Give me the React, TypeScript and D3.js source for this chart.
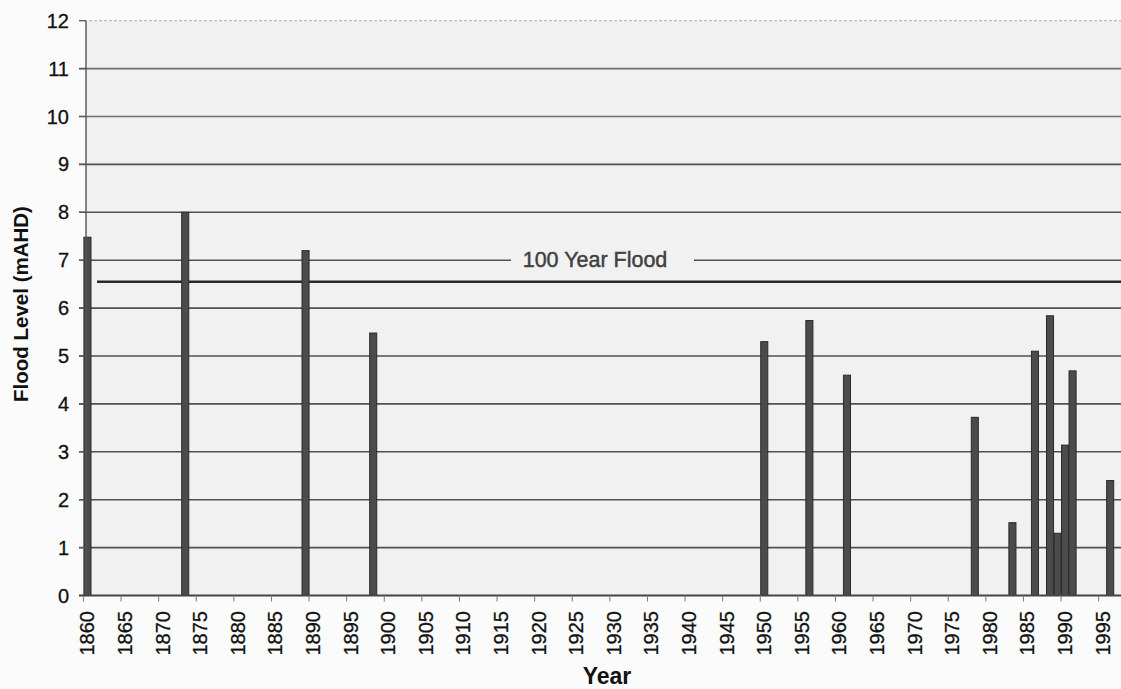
import React from "react";
import * as d3 from "d3";

const floodYears = [1860, 1873, 1889, 1898, 1950, 1956, 1961, 1978, 1983, 1986, 1988, 1989, 1990, 1991, 1996];
const floodLevels = [7.48, 8.0, 7.2, 5.48, 5.3, 5.74, 4.6, 3.72, 1.52, 5.1, 5.84, 1.3, 3.14, 4.69, 2.4];
const yTicks = [0, 1, 2, 3, 4, 5, 6, 7, 8, 9, 10, 11, 12];
const hundredYearFlood = 6.55;
const firstYear = 1860;
const lastYear = 1997;

export default function App() {
  const W = 1121, H = 689;
  const allYears = d3.range(firstYear, lastYear + 1);
  const x = d3.scaleBand<number>().domain(allYears).range([83.7, 83.7 + allYears.length * 7.52]).paddingInner(0.06).paddingOuter(0.03);
  const y = d3.scaleLinear().domain([0, 12]).range([595.5, 20.7]);
  const cx = (yr: number) => (x(yr) as number) + x.bandwidth() / 2;
  const labelYears = allYears.filter((yr) => (yr - firstYear) % 5 === 0 && yr <= 1995);
  const font = "'Liberation Sans', Arial, sans-serif";
  const plotL = 86, plotR = W;

  return (
    <svg width={W} height={H} style={{ position: "absolute", left: 0, top: 0, background: "#fbfbfb" }} fontFamily={font}>
      <rect x={plotL} y={y(12)} width={plotR - plotL} height={y(0) - y(12)} fill="#f1f1f1" />
      {/* gridlines */}
      {yTicks.filter((v) => v > 0).map((v) => (
        <line key={"g" + v} x1={79} x2={plotR} y1={y(v)} y2={y(v)}
          stroke={v === 12 ? "#b0b0b0" : v >= 10 ? "#707070" : "#505050"}
          strokeWidth={v === 12 ? 1 : 1.6}
          strokeDasharray={v === 12 ? "3,2" : undefined} />
      ))}
      {/* label for 100 year flood, breaking the 7 gridline */}
      <rect x={511} y={y(7) - 11} width={183} height={22} fill="#f1f1f1" />
      <text x={595} y={y(7)} textAnchor="middle" dominantBaseline="central" fontSize={21.5}
        fill="#404040" stroke="#404040" strokeWidth={0.45}>100 Year Flood</text>
      {/* 100 year flood line */}
      <line x1={97} x2={plotR} y1={y(hundredYearFlood)} y2={y(hundredYearFlood)} stroke="#2a2a2a" strokeWidth={2.6} />
      {/* bars */}
      {floodYears.map((yr, i) => (
        <rect key={"b" + yr} x={x(yr) as number} y={y(floodLevels[i])} width={x.bandwidth()}
          height={y(0) - y(floodLevels[i])} fill="#4b4b4b" stroke="#2b2b2b" strokeWidth={1} />
      ))}
      {/* y axis */}
      <line x1={plotL} x2={plotL} y1={y(12)} y2={y(0)} stroke="#555" strokeWidth={1.4} />
      {yTicks.map((v) => (
        <g key={"yt" + v}>
          <line x1={79} x2={plotL} y1={y(v)} y2={y(v)} stroke="#555" strokeWidth={1.2} />
          <text x={69} y={y(v)} textAnchor="end" dominantBaseline="central" fontSize={20} fill="#111"
            stroke="#111" strokeWidth={0.3}>{v}</text>
        </g>
      ))}
      {/* x axis */}
      <line x1={79} x2={plotR} y1={y(0)} y2={y(0)} stroke="#444" strokeWidth={1.8} />
      {labelYears.map((yr) => (
        <g key={"xt" + yr}>
          <line x1={cx(yr) - 4} x2={cx(yr) - 4} y1={y(0)} y2={y(0) + 6} stroke="#777" strokeWidth={1} />
          <text transform={`translate(${cx(yr)},${611}) rotate(-90)`} textAnchor="end" dominantBaseline="central"
            fontSize={20} fill="#111" stroke="#111" strokeWidth={0.3}>{yr}</text>
        </g>
      ))}
      {/* axis titles */}
      <text transform={`translate(20,304) rotate(-90)`} textAnchor="middle" dominantBaseline="central"
        fontSize={20.5} fontWeight="bold" fill="#111">Flood Level (mAHD)</text>
      <text x={607} y={684} textAnchor="middle" fontSize={23} fontWeight="bold" fill="#111">Year</text>
    </svg>
  );
}
